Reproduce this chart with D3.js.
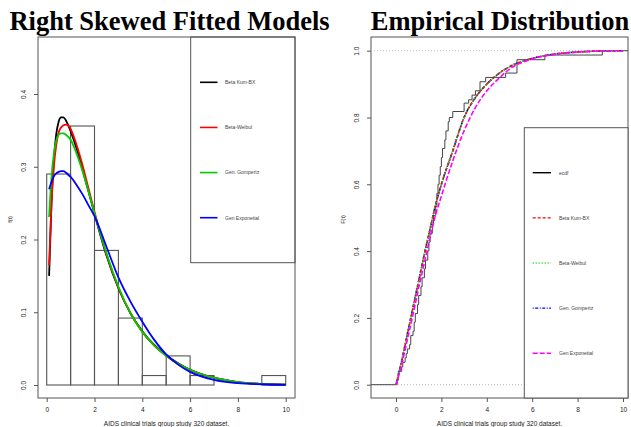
<!DOCTYPE html>
<html><head><meta charset="utf-8">
<script src="https://cdn.jsdelivr.net/npm/d3@7"></script>
<style>body{margin:0;background:#fff}svg{display:block}</style>
</head><body><svg id="c" width="631" height="427"></svg>
<script>
// ---------- data ----------
const titles = ["Right Skewed Fitted Models", "Empirical Distribution"];
const xLabel = "AIDS clinical trials group study 320 dataset.";
const binEdges = [0,1,2,3,4,5,6,7,8,9,10];
const histDensity = [0.29,0.356,0.185,0.092,0.013,0.04,0.013,0,0,0.013];
const densX = [0.1,0.2,0.3,0.4,0.5,0.6,0.7,0.8,0.9,1.0,1.25,1.5,1.75,2,2.5,3,3.5,4,4.5,5,5.5,6,7,8,9,10];
const densBetaKumBX = [0.15,0.25,0.31,0.345,0.362,0.368,0.368,0.364,0.357,0.349,0.325,0.296,0.266,0.235,0.178,0.133,0.099,0.074,0.055,0.041,0.03,0.021,0.010,0.004,0.0015,0.0005];
const densBetaWeibull = [0.165,0.25,0.30,0.33,0.347,0.354,0.357,0.358,0.357,0.352,0.33,0.302,0.27,0.238,0.18,0.134,0.099,0.073,0.054,0.04,0.029,0.021,0.010,0.004,0.0015,0.0005];
const densGenGompertz = [0.231,0.285,0.318,0.336,0.344,0.346,0.346,0.344,0.341,0.337,0.318,0.294,0.266,0.236,0.181,0.135,0.099,0.073,0.054,0.04,0.029,0.021,0.010,0.004,0.0015,0.0005];
const densGenExponential = [0.269,0.279,0.287,0.291,0.293,0.294,0.294,0.292,0.289,0.286,0.275,0.262,0.247,0.232,0.19,0.148,0.115,0.087,0.062,0.042,0.028,0.018,0.007,0.0025,0.001,0.0003];
const densNames = ["Beta Kum-BX","Beta-Weibul","Gen. Gompertz","Gen Exponetial"];
const densColors = ["#000000","#ff0000","#00cc00","#0000ff"];

const cdfX = [0,0.25,0.5,0.75,1,1.25,1.5,1.75,2,2.5,3,3.5,4,4.5,5,6,7,8,9,10];
const cdfBetaKumBX = [0,0.07,0.15,0.23,0.31,0.39,0.465,0.54,0.6,0.7,0.8,0.86,0.9,0.93,0.952,0.977,0.99,0.996,0.999,1.0];
const cdfBetaWeibull = [0,0.07,0.15,0.23,0.31,0.39,0.465,0.54,0.6,0.7,0.8,0.86,0.9,0.93,0.952,0.977,0.99,0.996,0.999,1.0];
const cdfGenGompertz = [0,0.072,0.152,0.232,0.312,0.392,0.466,0.54,0.6,0.7,0.8,0.86,0.9,0.93,0.952,0.977,0.99,0.996,0.999,1.0];
const cdfGenExponential = [0,0.06,0.135,0.21,0.29,0.365,0.44,0.51,0.565,0.67,0.76,0.83,0.88,0.915,0.945,0.975,0.989,0.996,0.999,1.0];
const ecdfJumpX = [0.05,0.1,0.25,0.3,0.4,0.45,0.5,0.6,0.65,0.75,0.8,0.85,0.95,1.0,1.1,1.15,1.25,1.3,1.4,1.45,1.5,1.6,1.65,1.75,1.8,1.85,1.9,1.95,2.0,2.05,2.15,2.2,2.3,2.35,2.5,3.0,3.2,3.35,3.5,3.7,3.95,4.83,5.33,6.56,9.09];
const ecdfLevel = [0.013,0.04,0.053,0.067,0.08,0.093,0.107,0.12,0.147,0.16,0.187,0.213,0.24,0.267,0.293,0.32,0.347,0.373,0.4,0.427,0.453,0.48,0.507,0.533,0.573,0.6,0.627,0.653,0.68,0.707,0.733,0.76,0.787,0.8,0.818,0.843,0.853,0.867,0.88,0.907,0.92,0.933,0.973,0.987,1.0];
const cdfNames = ["ecdf","Beta Kum-BX","Beta-Weibul","Gen. Gompertz","Gen Exponetial"];
const cdfColors = ["#000000","#ff0000","#00dd00","#0000ff","#ff00ff"];
const cdfDash = [null,"3,2","1,2","1,1.5,3,1.5","5,2"];
const cdfDrawOrder = [2,0,1,3]; // blue under red/green, magenta last

const xTicks = [0,2,4,6,8,10];
const yTicksL = [0,0.1,0.2,0.3,0.4];
const yTicksR = [0,0.2,0.4,0.6,0.8,1.0];

// ---------- drawing ----------
const svg = d3.select("#c");
const sans = "Liberation Sans, Arial, sans-serif";
const boxCol = "#555";

function axes(g, x, y, yt, box, ylab, fmt){
  g.append("rect").attr("x",box[0]).attr("y",box[1]).attr("width",box[2]-box[0]).attr("height",box[3]-box[1])
    .attr("fill","none").attr("stroke",boxCol).attr("stroke-width",1);
  const ax = g.append("g").attr("transform",`translate(0,${box[3]})`)
    .call(d3.axisBottom(x).tickValues(xTicks).tickSize(4).tickFormat(d3.format("d")));
  const ay = g.append("g").attr("transform",`translate(${box[0]},0)`)
    .call(d3.axisLeft(y).tickValues(yt).tickSize(4).tickFormat(fmt));
  [ax,ay].forEach(a=>{
    a.selectAll(".tick line").attr("stroke",boxCol);
    a.selectAll("text").attr("font-family",sans).attr("font-size",6.5).attr("fill","#222");
  });
  ax.select(".domain").remove();
  ay.select(".domain").remove();
  ax.selectAll("text").attr("dy","0").attr("y",14);
  ay.selectAll("text").attr("transform","rotate(-90)").attr("x",0).attr("y",-12).attr("dy","0")
    .attr("text-anchor","middle");
  g.append("text").attr("transform",`translate(${box[0]-26},${(box[1]+box[3])/2+2}) rotate(-90)`)
    .attr("text-anchor","middle").attr("font-family",sans).attr("font-size",5.5).attr("fill","#222").text(ylab);
  g.append("text").attr("x",(box[0]+box[2])/2).attr("y",426)
    .attr("text-anchor","middle").attr("font-family",sans).attr("font-size",6.5).attr("fill","#222").text(xLabel);
}

// ----- left panel -----
const boxL = [38,37,295,398];
const xL = d3.scaleLinear().domain([0,10]).range([46.7,285.7]);
const yL = d3.scaleLinear().domain([0,0.4]).range([385,94]);
const gL = svg.append("g");
axes(gL, xL, yL, yTicksL, boxL, "f(t)", d3.format(".1f"));
gL.selectAll("rect.bar").data(histDensity).join("rect").attr("class","bar")
  .attr("x",(d,i)=>xL(binEdges[i])).attr("width",(d,i)=>xL(binEdges[i+1])-xL(binEdges[i]))
  .attr("y",d=>yL(d)).attr("height",d=>yL(0)-yL(d))
  .attr("fill","none").attr("stroke","#555").attr("stroke-width",1.1);
const densSeries = [densBetaKumBX,densBetaWeibull,densGenGompertz,densGenExponential];
const lineL = d3.line().x((d,i)=>xL(densX[i])).y(d=>yL(d)).curve(d3.curveMonotoneX);
densSeries.forEach((s,k)=>{
  gL.append("path").attr("d",lineL(s)).attr("fill","none").attr("stroke",densColors[k]).attr("stroke-width",1.8);
});
// legend left
const legL = gL.append("g");
legL.append("rect").attr("x",190.7).attr("y",37).attr("width",295-190.7).attr("height",262.7-37)
  .attr("fill","none").attr("stroke",boxCol).attr("stroke-width",1);
const legLY = d3.scalePoint().domain(densNames).range([82.3,217.7]);
densNames.forEach((n,k)=>{
  const yy = legLY(n);
  legL.append("line").attr("x1",200).attr("x2",217.5).attr("y1",yy).attr("y2",yy).attr("stroke",densColors[k]).attr("stroke-width",1.6);
  legL.append("text").attr("x",225).attr("y",yy+1.8).attr("font-family",sans).attr("font-size",5).attr("fill","#444").text(n);
});

// ----- right panel -----
const boxR = [371,37,628,398];
const xR = d3.scaleLinear().domain([0,10]).range([396,623]);
const yR = d3.scaleLinear().domain([0,1]).range([384.7,50.7]);
const gR = svg.append("g");
axes(gR, xR, yR, yTicksR, boxR, "F(t)", d3.format(".1f"));
[0,1].forEach(v=>{
  gR.append("line").attr("x1",boxR[0]).attr("x2",boxR[2]).attr("y1",yR(v)).attr("y2",yR(v))
    .attr("stroke","#aaa").attr("stroke-width",0.8).attr("stroke-dasharray","1,2");
});
// ecdf steps
const stepPts = [[xR.invert(boxR[0]),0]];
ecdfJumpX.forEach((xv,i)=>{
  stepPts.push([xv, i===0?0:ecdfLevel[i-1]]);
  stepPts.push([xv, ecdfLevel[i]]);
});
stepPts.push([xR.invert(boxR[2]),1]);
const lineE = d3.line().x(d=>xR(d[0])).y(d=>yR(d[1]));
gR.append("path").attr("d",lineE(stepPts)).attr("fill","none").attr("stroke","#444").attr("stroke-width",1);
const cdfSeries = [cdfBetaKumBX,cdfBetaWeibull,cdfGenGompertz,cdfGenExponential];
const lineR = d3.line().x((d,i)=>xR(cdfX[i])).y(d=>yR(d)).curve(d3.curveMonotoneX);
cdfDrawOrder.forEach(k=>{
  gR.append("path").attr("d",lineR(cdfSeries[k])).attr("fill","none").attr("stroke",cdfColors[k+1])
    .attr("stroke-width",1.6).attr("stroke-dasharray",cdfDash[k+1]);
});
// legend right
const legR = gR.append("g");
legR.append("rect").attr("x",524.3).attr("y",127.7).attr("width",628-524.3).attr("height",398-127.7)
  .attr("fill","#fff").attr("stroke",boxCol).attr("stroke-width",1);
const legRY = d3.scalePoint().domain(cdfNames).range([172.7,353.3]);
cdfNames.forEach((n,k)=>{
  const yy = legRY(n);
  legR.append("line").attr("x1",532.7).attr("x2",551).attr("y1",yy).attr("y2",yy).attr("stroke",cdfColors[k])
    .attr("stroke-width",1.4).attr("stroke-dasharray",cdfDash[k]);
  legR.append("text").attr("x",559).attr("y",yy+1.8).attr("font-family",sans).attr("font-size",5).attr("fill","#444").text(n);
});

// titles
svg.append("text").attr("x",169.5).attr("y",30).attr("text-anchor","middle")
  .attr("font-family","Liberation Serif, Times New Roman, serif").attr("font-weight","bold").attr("font-size",26.5).text(titles[0]);
svg.append("text").attr("x",500).attr("y",30).attr("text-anchor","middle")
  .attr("font-family","Liberation Serif, Times New Roman, serif").attr("font-weight","bold").attr("font-size",26.5).text(titles[1]);
</script></body></html>
